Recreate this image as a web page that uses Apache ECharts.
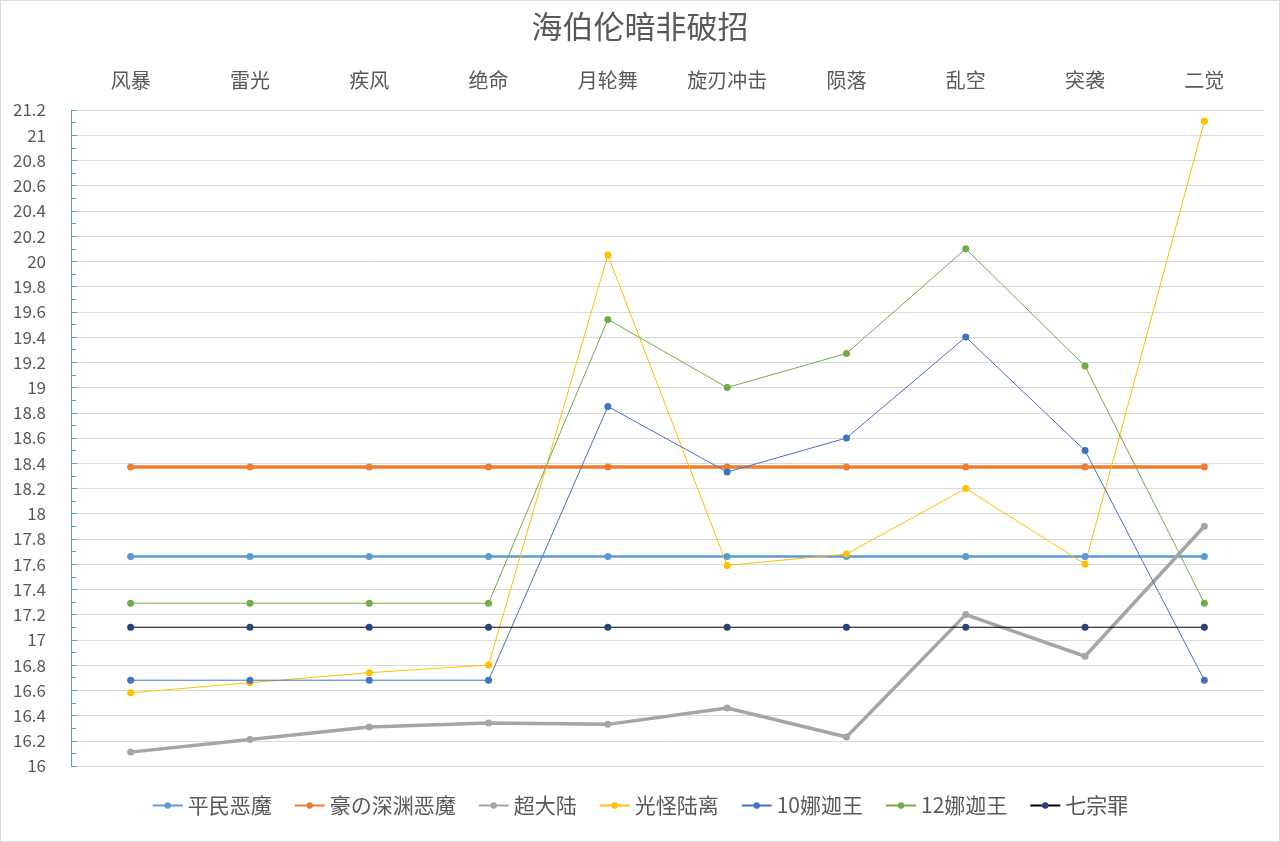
<!DOCTYPE html>
<html>
<head>
<meta charset="utf-8">
<script src="https://cdn.jsdelivr.net/npm/echarts@6/dist/echarts.min.js"></script>
<style>
    html, body { margin: 0; padding: 0; background: #fff; }
    #main { width: 1278px; height: 840px; border: 1px solid #d9d9d9; }
</style>
</head>
<body>
<div id="main"></div>
<script>
// skill names
var categories = ["风暴", "雷光", "疾风", "绝命", "月轮舞", "旋刃冲击", "陨落", "乱空", "突袭", "二觉"];

var pingmin = [17.66, 17.66, 17.66, 17.66, 17.66, 17.66, 17.66, 17.66, 17.66, 17.66];
var haoShenyuan = [18.37, 18.37, 18.37, 18.37, 18.37, 18.37, 18.37, 18.37, 18.37, 18.37];
var chaoDalu = [16.11, 16.21, 16.31, 16.34, 16.33, 16.46, 16.23, 17.2, 16.87, 17.9];
var guangguai = [16.58, 16.66, 16.74, 16.8, 20.05, 17.59, 17.68, 18.2, 17.6, 21.11];
var naga10 = [16.68, 16.68, 16.68, 16.68, 18.85, 18.33, 18.6, 19.4, 18.5, 16.68];
var naga12 = [17.29, 17.29, 17.29, 17.29, 19.54, 19.0, 19.27, 20.1, 19.17, 17.29];
var qizongzui = [17.1, 17.1, 17.1, 17.1, 17.1, 17.1, 17.1, 17.1, 17.1, 17.1];

var fontName = "'Noto Sans CJK SC', 'Noto Sans', sans-serif";

function mkSeries(name, data, color, width, lineColor) {
    return {
        name: name,
        type: 'line',
        data: data,
        symbol: 'circle',
        symbolSize: 7,
        itemStyle: { color: color },
        lineStyle: { color: lineColor || color, width: width },
        emphasis: { disabled: true }
    };
}

var chart = echarts.init(document.getElementById('main'));
chart.setOption({
    animation: false,
    title: {
        text: '海伯伦暗非破招',
        left: 'center',
        top: 5,
        textStyle: {
            fontFamily: fontName,
            fontSize: 31,
            fontWeight: 'normal',
            color: '#595959'
        }
    },
    legend: {
        bottom: 20,
        left: 'center',
        itemWidth: 30,
        itemHeight: 8,
        itemGap: 22,
        textStyle: { fontFamily: fontName, fontSize: 21, color: '#595959' }
    },
    grid: {
        left: 70,
        right: 15,
        top: 109,
        bottom: 75
    },
    xAxis: {
        type: 'category',
        position: 'top',
        data: categories,
        boundaryGap: true,
        axisLine: { show: false },
        axisTick: { show: false },
        axisLabel: {
            fontFamily: fontName,
            fontSize: 20,
            color: '#595959',
            margin: 20
        }
    },
    yAxis: {
        type: 'value',
        min: 16,
        max: 21.2,
        interval: 0.2,
        axisLine: { show: true, lineStyle: { color: '#5B9BD5', width: 1 } },
        axisTick: { show: true, inside: true, length: 6, lineStyle: { color: '#5B9BD5' } },
        minorTick: { show: true, splitNumber: 2, length: 5, lineStyle: { color: '#5B9BD5' } },
        splitLine: { show: true, lineStyle: { color: '#d9d9d9', width: 1 } },
        axisLabel: {
            fontFamily: fontName,
            fontSize: 17,
            color: '#595959',
            margin: 25,
            formatter: function (v) { return String(Math.round(v * 10) / 10); }
        }
    },
    series: [
        mkSeries('平民恶魔', pingmin, '#5B9BD5', 2.5),
        mkSeries('豪の深渊恶魔', haoShenyuan, '#ED7D31', 3.5),
        mkSeries('超大陆', chaoDalu, '#A5A5A5', 3.5),
        mkSeries('光怪陆离', guangguai, '#FFC000', 1),
        mkSeries('10娜迦王', naga10, '#4472C4', 1),
        mkSeries('12娜迦王', naga12, '#70AD47', 1),
        mkSeries('七宗罪', qizongzui, '#264478', 1.2, '#000000')
    ]
});
</script>
</body>
</html>
